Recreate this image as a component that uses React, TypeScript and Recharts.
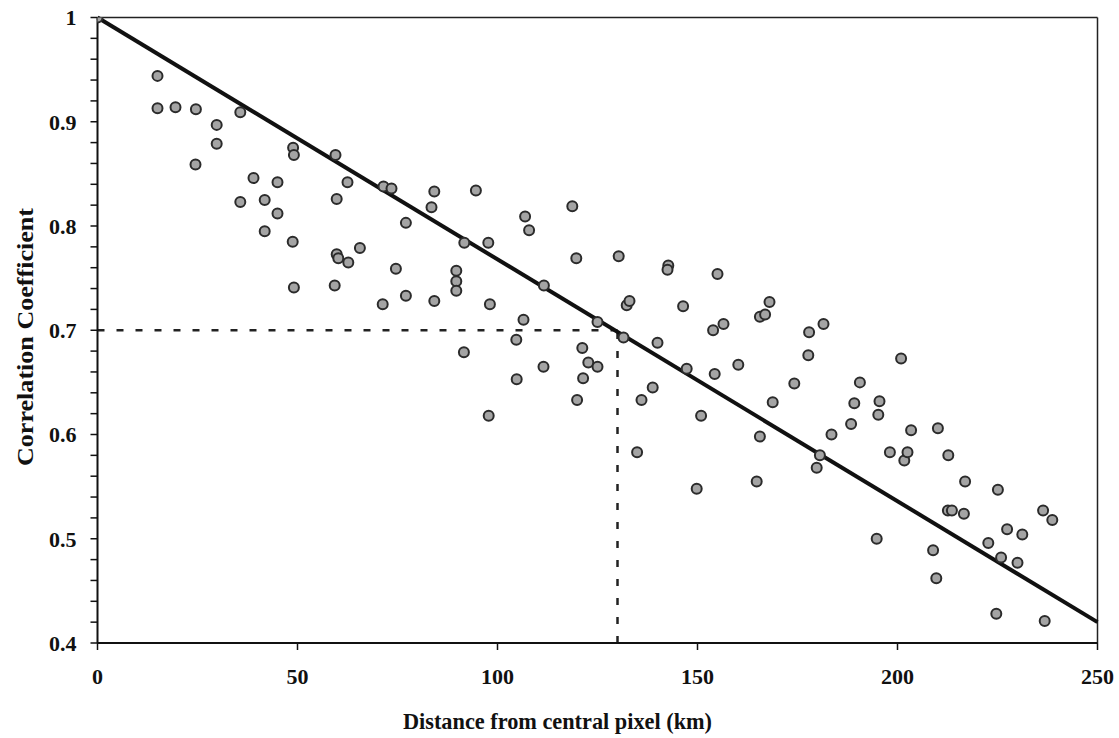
import React from 'react';
import { ScatterChart, Scatter, XAxis, YAxis, ReferenceLine, Label } from 'recharts';

const FONT = '"Liberation Serif", "Times New Roman", Times, serif';

const distanceKm = [
  0, 15, 15, 19.5, 24.6, 24.5, 29.8, 29.8, 35.7, 35.7,
  39, 41.8, 41.8, 45, 45, 48.9, 49.1, 48.8, 49.1, 59.5,
  59.8, 59.8, 60.2, 59.3, 62.5, 62.7, 65.6, 71.5, 73.5, 71.3,
  74.6, 77.1, 77.1, 83.5, 84.2, 84.2, 89.7, 89.7, 89.7, 91.7,
  91.6, 94.6, 97.7, 98.1, 97.8, 104.7, 104.8, 106.5, 106.9, 107.9,
  111.6, 111.5, 118.7, 119.7, 119.9, 121.2, 121.4, 122.7, 125, 125,
  130.3, 131.5, 132.3, 133, 134.9, 136, 138.8, 140, 142.7, 142.5,
  146.4, 147.3, 149.8, 150.9, 153.9, 154.3, 155, 156.5, 160.2, 164.8,
  165.6, 165.6, 166.9, 168, 168.8, 174.2, 177.7, 177.9, 179.8, 180.6,
  181.5, 183.5, 188.4, 189.2, 190.6, 194.8, 195.2, 195.5, 198.1, 200.9,
  201.7, 202.5, 203.4, 208.9, 209.7, 210.1, 212.7, 212.6, 213.6, 216.6,
  216.9, 222.7, 224.7, 225.1, 225.9, 227.4, 230, 231.2, 236.4, 236.8,
  238.7,
];

const correlation = [
  1.0, 0.944, 0.913, 0.914, 0.912, 0.859, 0.897, 0.879, 0.909, 0.823,
  0.846, 0.825, 0.795, 0.842, 0.812, 0.875, 0.868, 0.785, 0.741, 0.868,
  0.826, 0.773, 0.769, 0.743, 0.842, 0.765, 0.779, 0.838, 0.836, 0.725,
  0.759, 0.803, 0.733, 0.818, 0.833, 0.728, 0.757, 0.747, 0.738, 0.784,
  0.679, 0.834, 0.784, 0.725, 0.618, 0.691, 0.653, 0.71, 0.809, 0.796,
  0.743, 0.665, 0.819, 0.769, 0.633, 0.683, 0.654, 0.669, 0.708, 0.665,
  0.771, 0.693, 0.724, 0.728, 0.583, 0.633, 0.645, 0.688, 0.762, 0.758,
  0.723, 0.663, 0.548, 0.618, 0.7, 0.658, 0.754, 0.706, 0.667, 0.555,
  0.598, 0.713, 0.715, 0.727, 0.631, 0.649, 0.676, 0.698, 0.568, 0.58,
  0.706, 0.6, 0.61, 0.63, 0.65, 0.5, 0.619, 0.632, 0.583, 0.673,
  0.575, 0.583, 0.604, 0.489, 0.462, 0.606, 0.58, 0.527, 0.527, 0.524,
  0.555, 0.496, 0.428, 0.547, 0.482, 0.509, 0.477, 0.504, 0.527, 0.421,
  0.518,
];

const xTicks = [0, 50, 100, 150, 200, 250];
const yTicks = [
  0.4, 0.42, 0.44, 0.46, 0.48, 0.5, 0.52, 0.54, 0.56, 0.58,
  0.6, 0.62, 0.64, 0.66, 0.68, 0.7, 0.72, 0.74, 0.76, 0.78,
  0.8, 0.82, 0.84, 0.86, 0.88, 0.9, 0.92, 0.94, 0.96, 0.98, 1.0,
];
const yLabeled = [0.4, 0.5, 0.6, 0.7, 0.8, 0.9, 1.0];

const fitX = [0, 250];
const fitY = [1.0, 0.42];
const markX = 130;
const markY = 0.7;

const xTitle = 'Distance from central pixel (km)';
const yTitle = 'Correlation Coefficient';

const fmtY = (v: number) => {
  const hit = yLabeled.find((t) => Math.abs(t - v) < 1e-6);
  if (hit === undefined) return '';
  return hit === 1 ? '1' : hit.toFixed(1);
};

const Dot = (props: any) => {
  const { cx, cy } = props;
  if (cx == null || cy == null) return null;
  return <circle cx={cx} cy={cy} r={5} fill="#a4a4a4" stroke="#2b2b2b" strokeWidth={2} />;
};

const tickStyle = { fontFamily: FONT, fontSize: 22, fontWeight: 'bold', fill: '#111' };

export default function App() {
  const data = distanceKm.map((d, i) => ({ x: d, y: correlation[i] }));
  return (
    <div style={{ position: 'absolute', left: 0, top: 0, background: '#fff' }}>
      <ScatterChart width={1119} height={738} margin={{ top: 17.5, right: 21.5, left: 0, bottom: 35 }}>
        <XAxis
          type="number"
          dataKey="x"
          domain={[0, 250]}
          ticks={xTicks}
          allowDataOverflow
          height={60}
          axisLine={{ stroke: '#111', strokeWidth: 2 }}
          tickLine={{ stroke: '#111', strokeWidth: 1.5 }}
          tickSize={7}
          tickMargin={18}
          tick={tickStyle}
        >
          <Label
            content={() => (
              <text
                x={557.5}
                y={729}
                textAnchor="middle"
                fontFamily={FONT}
                fontSize={24}
                fontWeight="bold"
                fill="#111"
                textLength={309}
                lengthAdjust="spacingAndGlyphs"
              >
                {xTitle}
              </text>
            )}
          />
        </XAxis>
        <YAxis
          type="number"
          dataKey="y"
          domain={[0.4, 1]}
          ticks={yTicks}
          allowDataOverflow
          interval={0}
          width={97.5}
          axisLine={{ stroke: '#111', strokeWidth: 2 }}
          tickLine={{ stroke: '#111', strokeWidth: 1.5 }}
          tickSize={7}
          tickMargin={14}
          tickFormatter={fmtY}
          tick={tickStyle}
        >
          <Label
            content={() => (
              <text
                x={0}
                y={0}
                transform="translate(33,337) rotate(-90)"
                textAnchor="middle"
                fontFamily={FONT}
                fontSize={24}
                fontWeight="bold"
                fill="#111"
                textLength={258}
                lengthAdjust="spacingAndGlyphs"
              >
                {yTitle}
              </text>
            )}
          />
        </YAxis>
        <ReferenceLine y={1} stroke="#222" strokeWidth={1.5} />
        <ReferenceLine x={250} stroke="#222" strokeWidth={1.5} />
        <ReferenceLine
          segment={[{ x: 0, y: markY }, { x: markX, y: markY }]}
          stroke="#222"
          strokeWidth={2.5}
          strokeDasharray="7 12"
        />
        <ReferenceLine
          segment={[{ x: markX, y: 0.4 }, { x: markX, y: markY }]}
          stroke="#222"
          strokeWidth={2.5}
          strokeDasharray="7 12"
        />
        <ReferenceLine
          segment={[{ x: fitX[0], y: fitY[0] }, { x: fitX[1], y: fitY[1] }]}
          stroke="#111"
          strokeWidth={4}
        />
        <Scatter data={data} shape={<Dot />} isAnimationActive={false} />
      </ScatterChart>
    </div>
  );
}
